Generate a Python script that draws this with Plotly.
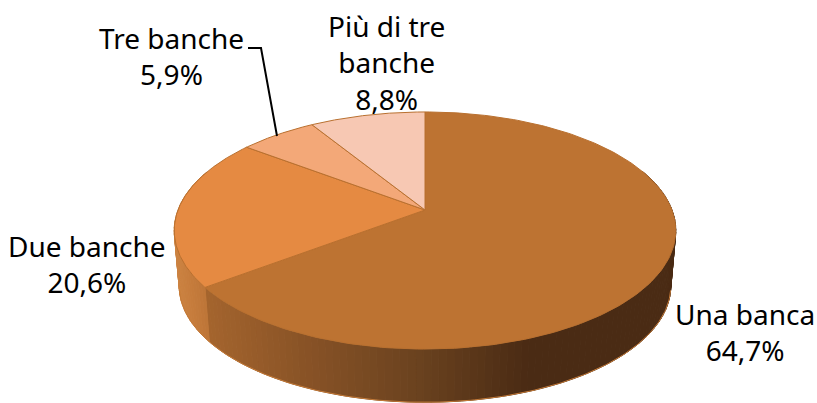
import numpy as np
import plotly.graph_objects as go

# --- data ---
categories = ["Una banca", "Due banche", "Tre banche", "Più di tre banche"]
values = [64.7, 20.6, 5.9, 8.8]
label_text = ["Una banca", "Due banche", "Tre banche", "Più di tre<br>banche"]
top_colors = ["#BD7332", "#E58A42", "#F3A878", "#F7C8B3"]

# --- view of the tilted disc (perspective projection), in page pixels ---
CX, CY, A, B, K = 425.0, 210.0, 247.0, 115.0, -0.173
DEPTH, SHRINK = 56.0, 0.98


def project(theta, r=1.0, bottom=False):
    u, v = r * np.sin(theta), r * np.cos(theta)
    w = 1 - K * v
    s = SHRINK if bottom else 1.0
    return CX + s * A * u / w, CY + (DEPTH if bottom else 0) - s * B * v / w


def hexrgb(h):
    return np.array([int(h[i:i + 2], 16) for i in (1, 3, 5)], float)


def ramp(x, stops):
    xs = [s[0] for s in stops]
    rgb = [np.interp(x, xs, [hexrgb(s[1])[i] for s in stops]) for i in range(3)]
    return "rgb(%d,%d,%d)" % tuple(rgb)


side_stops = [
    [(205, "#A5652E"), (300, "#8A5427"), (420, "#6A421F"), (530, "#4A2B14"), (680, "#4B2C14")],
    [(175, "#CC8342"), (190, "#C67C3C"), (207, "#BD7538")],
    [(0, "#F3A878"), (900, "#F3A878")],
    [(0, "#F7C8B3"), (900, "#F7C8B3")],
]

fractions = np.array(values) / sum(values)
edges = np.concatenate([[0], np.cumsum(fractions)]) * 2 * np.pi

fig = go.Figure()

# rim of the disc
for i in range(len(values)):
    a0, a1 = edges[i], edges[i + 1]
    n = max(2, int(np.degrees(a1 - a0) / 1.5))
    th = np.linspace(a0, a1, n + 1)
    for t0, t1 in zip(th[:-1], th[1:]):
        if np.cos((t0 + t1) / 2) > 0.35:
            continue
        x0, y0 = project(t0)
        x1, y1 = project(t1)
        x2, y2 = project(t1, bottom=True)
        x3, y3 = project(t0, bottom=True)
        col = ramp((x0 + x1) / 2, side_stops[i])
        fig.add_trace(go.Scatter(x=[x0, x1, x2, x3, x0], y=[y0, y1, y2, y3, y0],
                                 mode="lines", fill="toself", fillcolor=col,
                                 line=dict(color=col, width=1), hoverinfo="skip"))

# lit lower edge of the rim
th = np.linspace(np.radians(102), np.radians(258), 200)
bx, by = project(th, bottom=True)
fig.add_trace(go.Scatter(x=bx, y=by, mode="lines",
                         line=dict(color="#C47A38", width=1), hoverinfo="skip"))

# top face
for i in range(len(values)):
    th = np.linspace(edges[i], edges[i + 1], 200)
    px, py = project(th)
    x = np.concatenate([[CX], px, [CX]])
    y = np.concatenate([[CY], py, [CY]])
    fig.add_trace(go.Scatter(x=x, y=y, mode="lines", fill="toself",
                             fillcolor=top_colors[i],
                             line=dict(color="#B9702F", width=1),
                             name=categories[i], hoverinfo="name"))

# data labels
label_pos = [(745, 332), (87, 264), (171, 56), (386, 62)]
annotations = []
for lab, val, (lx, ly) in zip(label_text, values, label_pos):
    annotations.append(dict(x=lx, y=ly, xref="x", yref="y", showarrow=False,
                            xanchor="center", yanchor="middle", align="center",
                            text=f"{lab}<br>{val:.1f}%".replace(".", ","),
                            font=dict(family="Noto Sans", size=28, color="#000000")))

fig.update_layout(
    width=817, height=403, margin=dict(l=0, r=0, t=0, b=0),
    paper_bgcolor="white", plot_bgcolor="white", showlegend=False,
    xaxis=dict(range=[0, 817], visible=False, fixedrange=True),
    yaxis=dict(range=[403, 0], visible=False, fixedrange=True),
    annotations=annotations,
    shapes=[dict(type="path", path="M 248 48 L 261 48 L 277 136",
                 line=dict(color="#000000", width=2))],
)
fig.write_html("out.html", config={"displayModeBar": False},
               post_script="document.body.style.margin='0';document.body.style.overflow='hidden';")
